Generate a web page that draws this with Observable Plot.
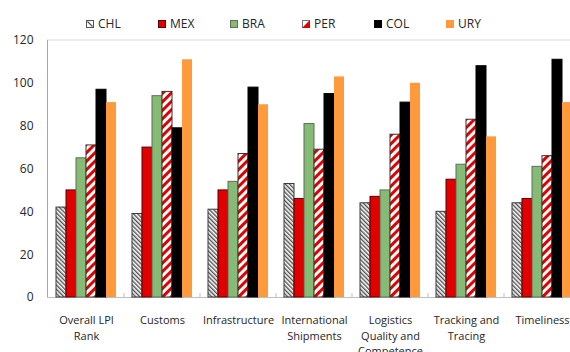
<!DOCTYPE html>
<html><head><meta charset="utf-8">
<script src="https://cdn.jsdelivr.net/npm/d3@7"></script>
<script src="https://cdn.jsdelivr.net/npm/@observablehq/plot@0.6"></script>
<style>
body{margin:0;background:#fff;font-family:"Open Sans",sans-serif;}
#wrap{position:relative;width:570px;height:352px;overflow:hidden;}
#note{position:absolute;left:14px;top:-15px;color:#3b9fdb;font-size:12px;line-height:16px;white-space:nowrap;}
#legend{position:absolute;left:86px;top:16px;display:flex;font-size:12px;line-height:16px;color:#262626;}
.item{width:72px;display:flex;align-items:center;}
.sw{width:8px;height:8px;margin-right:4px;display:block;}
#chart{position:absolute;left:0;top:0;}
</style></head>
<body><div id="wrap"><div id="chart"></div><div id="note">(Rank, 1 = best)</div><div id="legend"></div></div>
<script>
const categories = ["Overall LPI Rank","Customs","Infrastructure","International Shipments","Logistics Quality and Competence","Tracking and Tracing","Timeliness"];
const categoryLabels = ["Overall LPI\nRank","Customs","Infrastructure","International\nShipments","Logistics\nQuality and\nCompetence","Tracking and\nTracing","Timeliness"];
const countries = ["CHL","MEX","BRA","PER","COL","URY"];
const CHL = [42,39,41,53,44,40,44];
const MEX = [50,70,50,46,47,55,46];
const BRA = [65,94,54,81,50,62,61];
const PER = [71,96,67,69,76,83,66];
const COL = [97,79,98,95,91,108,111];
const URY = [91,111,90,103,100,75,91];
const yTicks = [0,20,40,60,80,100,120];

const series = {CHL, MEX, BRA, PER, COL, URY};
const rows = categories.flatMap((c,i) => countries.map(k => ({category:c, country:k, value:series[k][i]})));
const labelOf = Object.fromEntries(categories.map((c,i)=>[c,categoryLabels[i]]));
const fillOf = {CHL:"url(#hatchCHL)", MEX:"#e00000", BRA:"#85bb74", PER:"url(#stripePER)", COL:"#000000", URY:"#ff9a3c"};
const strokeOf = {CHL:"#3a3a3a", MEX:"#5a0000", BRA:"#5f6f5a", PER:"#333333", COL:"#000000", URY:"none"};

const chart = Plot.plot({
  width:570, height:352, marginTop:40, marginBottom:55, marginLeft:47, marginRight:0,
  style:{fontFamily:'"Open Sans", sans-serif', fontSize:"12px", color:"#262626", background:"transparent"},
  fx:{domain:categories, range:[47,580], paddingInner:0.185, paddingOuter:0.096, label:null},
  x:{domain:countries, padding:0, axis:null},
  y:{domain:[0,120], label:null},
  color:{type:"identity"},
  marks:[
    Plot.axisY({ticks:yTicks, tickSize:0, tickPadding:22, label:null, fontSize:12}),
    Plot.axisFx({anchor:"bottom", tickSize:0, tickPadding:16, tickFormat:d=>labelOf[d], lineHeight:1.4, fontSize:11, label:null}),
    Plot.barY(rows, {fx:"category", x:"country", y:"value", fill:d=>fillOf[d.country], stroke:d=>strokeOf[d.country], strokeWidth:1})
  ]
});
document.getElementById("chart").appendChild(chart);

const svg = d3.select(chart);
const defs = svg.append("defs");
const p1 = defs.append("pattern").attr("id","hatchCHL").attr("patternUnits","userSpaceOnUse")
  .attr("width",3).attr("height",3).attr("patternTransform","rotate(-45)");
p1.append("rect").attr("width",3).attr("height",3).attr("fill","#fff");
p1.append("rect").attr("width",1.4).attr("height",3).attr("fill","#505050");
const p2 = defs.append("pattern").attr("id","stripePER").attr("patternUnits","userSpaceOnUse")
  .attr("width",6).attr("height",6).attr("patternTransform","rotate(45)");
p2.append("rect").attr("width",6).attr("height",6).attr("fill","#fff");
p2.append("rect").attr("width",3).attr("height",6).attr("fill","#e00000");

const fx = chart.scale("fx"), y = chart.scale("y");
const x0 = fx.range[0], x1 = 570;
const y0 = y.apply(0), yTop = y.apply(120);
const g = svg.insert("g", ":first-child").attr("fill","none");
g.append("line").attr("x1",x0).attr("x2",x1).attr("y1",yTop).attr("y2",yTop).attr("stroke","#d9d9d9");
g.append("line").attr("x1",x0).attr("x2",x1).attr("y1",y0+0.5).attr("y2",y0+0.5).attr("stroke","#bfbfbf");
g.append("line").attr("x1",x0+0.5).attr("x2",x0+0.5).attr("y1",yTop).attr("y2",y0).attr("stroke","#a6a6a6");
for (let i=0;i<categories.length-1;i++){
  const bx = (fx.apply(categories[i]) + fx.bandwidth + fx.apply(categories[i+1]))/2;
  g.append("line").attr("x1",bx).attr("x2",bx).attr("y1",y0).attr("y2",y0-4).attr("stroke","#bfbfbf");
}

// legend
const legend = d3.select("#legend");
countries.forEach(k => {
  const it = legend.append("div").attr("class","item");
  const s = it.append("svg").attr("class","sw").attr("width",8).attr("height",8);
  if (k==="CHL"){
    s.append("rect").attr("x",0.5).attr("y",0.5).attr("width",7).attr("height",7).attr("fill","#fff").attr("stroke","#555");
    s.append("line").attr("x1",1.5).attr("y1",1.5).attr("x2",6.5).attr("y2",6.5).attr("stroke","#555").attr("stroke-width",1.3);
  } else if (k==="PER"){
    s.append("rect").attr("x",0.5).attr("y",0.5).attr("width",7).attr("height",7).attr("fill","#fff").attr("stroke","#777");
    s.append("polygon").attr("points","8,0 8,8 0,8").attr("fill","#e00000");
  } else {
    s.append("rect").attr("x",0.5).attr("y",0.5).attr("width",7).attr("height",7).attr("fill",fillOf[k]).attr("stroke",strokeOf[k]==="none"?fillOf[k]:strokeOf[k]);
  }
  it.append("span").text(k);
});
</script>
</body></html>
